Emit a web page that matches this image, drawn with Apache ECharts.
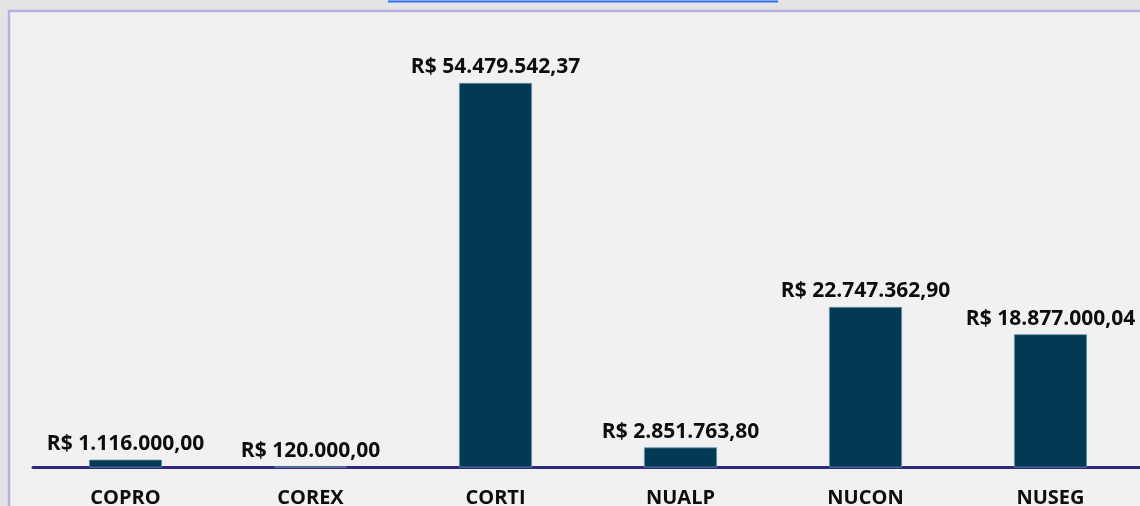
<!DOCTYPE html>
<html>
<head>
<meta charset="utf-8">
<script src="https://cdn.jsdelivr.net/npm/echarts@6/dist/echarts.min.js"></script>
<style>
html,body{margin:0;padding:0;background:#e4e4e4;}
#c{width:1140px;height:506px;}
</style>
</head>
<body>
<div id="c"></div>
<script>
const categories = ['COPRO', 'COREX', 'CORTI', 'NUALP', 'NUCON', 'NUSEG'];
const values = [1116000.00, 120000.00, 54479542.37, 2851763.80, 22747362.90, 18877000.04];

function brl(v) {
  const fixed = v.toFixed(2);
  const parts = fixed.split('.');
  const intPart = parts[0].replace(/\B(?=(\d{3})+(?!\d))/g, '.');
  return 'R$ ' + intPart + ',' + parts[1];
}

const chart = echarts.init(document.getElementById('c'), null, {renderer: 'canvas'});
const font = '"Open Sans", "Noto Sans", sans-serif';
chart.setOption({
  backgroundColor: '#e4e4e4',
  animation: false,
  graphic: [
    {type: 'rect', z: -10, shape: {x: 9, y: 11, width: 1200, height: 600},
     style: {fill: '#f1f1f1', stroke: '#b4b0e2', lineWidth: 2.5}},
    {type: 'line', z: -5, shape: {x1: 388, y1: 1.5, x2: 778, y2: 1.5},
     style: {stroke: '#2d6cf4', lineWidth: 2}}
  ],
  grid: {left: 33, right: -3, top: 44, bottom: 38.5, containLabel: false, outerBoundsMode: 'none'},
  xAxis: {
    type: 'category',
    data: categories,
    axisLine: {show: true, lineStyle: {color: '#2f2a80', width: 3}},
    axisTick: {show: false},
    axisLabel: {color: '#0d0d0d', fontFamily: font, fontWeight: 'bold', fontSize: 20, margin: 21}
  },
  yAxis: {
    type: 'value', min: 0, max: 60000000,
    show: false,
    splitLine: {show: false}
  },
  series: [{
    type: 'bar',
    data: values,
    barWidth: 73,
    itemStyle: {color: '#023a56', borderColor: '#6d93a8', borderWidth: 0.8},
    label: {
      show: true, position: 'top', distance: 5,
      color: '#0d0d0d', fontFamily: font, fontWeight: 'bold', fontSize: 21,
      formatter: p => brl(p.value)
    }
  }]
});
</script>
</body>
</html>
